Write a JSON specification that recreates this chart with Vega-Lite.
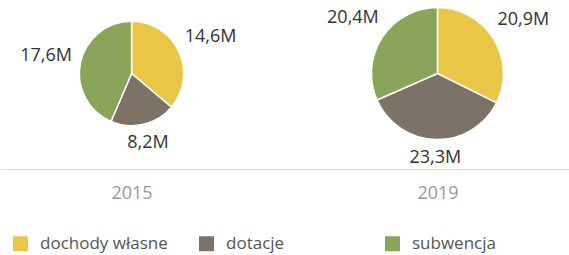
{
  "$schema": "https://vega.github.io/schema/vega-lite/v6.json",
  "width": 569,
  "height": 147,
  "autosize": {"type": "none"},
  "padding": {"left": 0, "top": 0, "right": 0, "bottom": 108},
  "background": "white",
  "config": {"view": {"stroke": null}, "font": "Open Sans"},
  "data": {"values": [
    {"year": "2015", "category": "dochody własne", "order": 1, "value": 14.6},
    {"year": "2015", "category": "dotacje", "order": 2, "value": 8.2},
    {"year": "2015", "category": "subwencja", "order": 3, "value": 17.6},
    {"year": "2019", "category": "dochody własne", "order": 1, "value": 20.9},
    {"year": "2019", "category": "dotacje", "order": 2, "value": 23.3},
    {"year": "2019", "category": "subwencja", "order": 3, "value": 20.4}
  ]},
  "transform": [
    {"stack": "value", "groupby": ["year"], "sort": [{"field": "order"}], "offset": "normalize", "as": ["start", "end"]},
    {"joinaggregate": [{"op": "sum", "field": "value", "as": "total"}], "groupby": ["year"]},
    {"calculate": "(datum.start + datum.end) / 2", "as": "mid"},
    {"calculate": "replace(format(datum.value, '.1f'), '.', ',') + 'M'", "as": "label"}
  ],
  "encoding": {
    "x": {
      "field": "year", "type": "nominal",
      "scale": {"type": "point", "padding": 0.43},
      "axis": {"title": null, "orient": "bottom", "offset": 22, "domainColor": "#dddddd", "domainWidth": 1, "ticks": false, "tickSize": 0, "labelFontSize": 18, "labelColor": "#999999", "labelPadding": 15, "labelAngle": 0, "grid": false}
    },
    "radius": {
      "field": "total", "type": "quantitative",
      "scale": {"type": "sqrt", "zero": true, "nice": false, "domain": [0, 64.6], "range": [0, 66]}
    }
  },
  "layer": [
    {
      "mark": {"type": "arc", "stroke": "white", "strokeWidth": 1.5},
      "encoding": {
        "theta": {"field": "start", "type": "quantitative", "scale": {"domain": [0, 1]}},
        "theta2": {"field": "end"},
        "color": {
          "field": "category", "type": "nominal",
          "scale": {"domain": ["dochody własne", "dotacje", "subwencja"], "range": ["#e9c645", "#7d7268", "#88a55a"]},
          "legend": {"title": null, "orient": "none", "legendX": 12, "legendY": 235, "direction": "horizontal", "columns": 3, "gridAlign": "all", "symbolType": "square", "symbolSize": 225, "symbolStrokeWidth": 0, "labelFontSize": 17, "labelColor": "#555555", "labelOffset": 11, "columnPadding": 30, "labelLimit": 300}
        }
      }
    },
    {
      "transform": [{"filter": "datum.order != 2"}],
      "mark": {"type": "text", "radiusOffset": 35, "fontSize": 18, "color": "#333333"},
      "encoding": {
        "theta": {"field": "mid", "type": "quantitative", "scale": {"domain": [0, 1]}},
        "text": {"field": "label", "type": "nominal"}
      }
    },
    {
      "transform": [{"filter": "datum.order == 2"}],
      "mark": {"type": "text", "radiusOffset": 19, "fontSize": 18, "color": "#333333"},
      "encoding": {
        "theta": {"field": "mid", "type": "quantitative", "scale": {"domain": [0, 1]}},
        "text": {"field": "label", "type": "nominal"}
      }
    }
  ]
}
